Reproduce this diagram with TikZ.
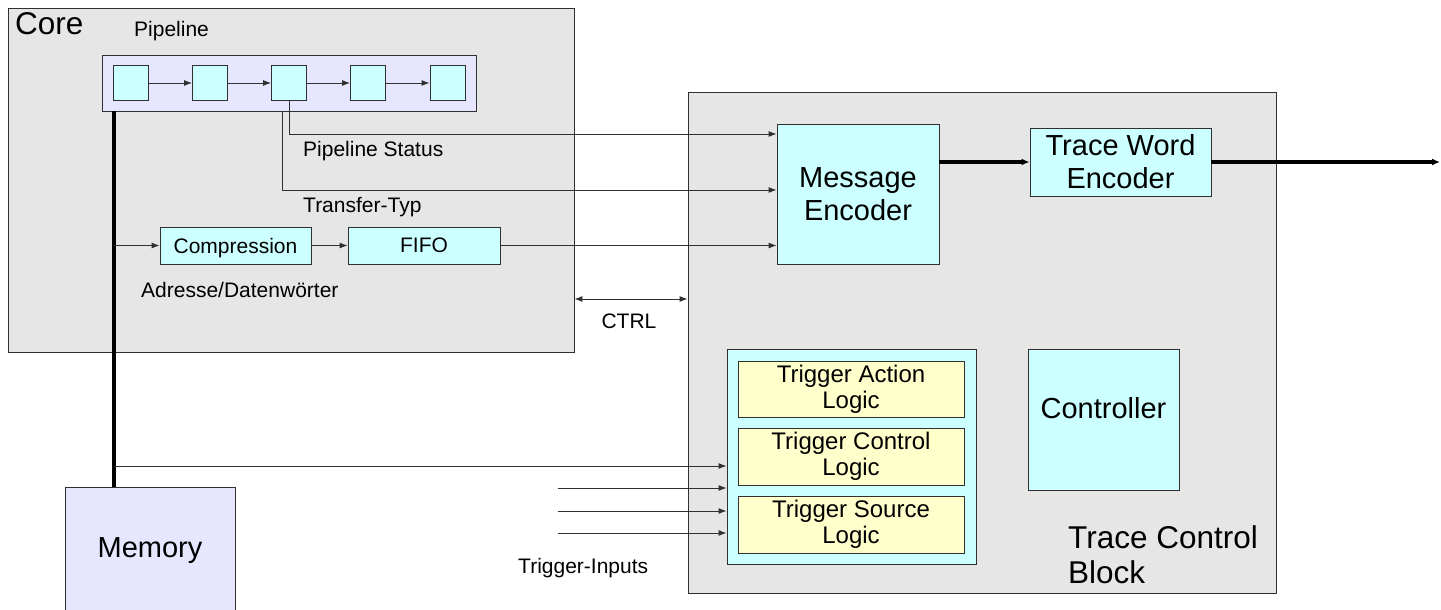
\documentclass[tikz,border=0pt]{standalone}
\usepackage{fontspec}
\setmainfont{Liberation Sans}
\usetikzlibrary{arrows.meta}
\definecolor{coregray}{HTML}{E6E6E6}
\definecolor{lavender}{HTML}{E6E6FF}
\definecolor{palecyan}{HTML}{CCFFFF}
\definecolor{paleyellow}{HTML}{FFFFCC}
\definecolor{edge}{HTML}{303030}

\tikzset{
  box/.style={draw=edge, line width=0.9pt, inner sep=0pt, align=center},
  graybox/.style={box, fill=coregray},
  lavbox/.style={box, fill=lavender},
  cyanbox/.style={box, fill=palecyan},
  yelbox/.style={box, fill=paleyellow},
  small/.style={font=\fontsize{21}{24}\selectfont},
  mid/.style={font=\fontsize{24}{26}\selectfont},
  big/.style={font=\fontsize{29}{33}\selectfont},
  huge/.style={font=\fontsize{31.5}{35}\selectfont},
  label/.style={small, inner sep=0pt},
  wire/.style={draw=edge, line width=0.9pt},
  arr/.style={wire, -{Latex[length=8pt,width=6pt]}},
  biarr/.style={wire, {Latex[length=8pt,width=6pt]}-{Latex[length=8pt,width=6pt]}},
  bus/.style={draw=black, line width=3.5pt},
  busarr/.style={draw=black, line width=3.5pt, -{Latex[length=8pt,width=7pt]}},
}

\begin{document}
\begin{tikzpicture}[x=1pt,y=-1pt]
\useasboundingbox (0,0) rectangle (1441,610);

% ---- outer blocks
\node[graybox, minimum width=566pt, minimum height=344pt] (core) at (291,180) {};
\node[graybox, minimum width=588pt, minimum height=501pt] (tcb) at (982,342.5) {};
\node[huge, inner sep=0pt, anchor=base west] (corelbl) at (15,35) {Core};

% ---- pipeline
\node[label, anchor=base west] (pipelbl) at (134,37) {Pipeline};
\node[lavbox, minimum width=374pt, minimum height=56pt] (pipe) at (289,83) {};
\foreach \i/\x in {1/130.5, 2/210, 3/289, 4/368, 5/447.5}
  \node[cyanbox, minimum width=35pt, minimum height=35pt] (s\i) at (\x,83) {};
\foreach \a/\b in {1/2, 2/3, 3/4, 4/5}
  \draw[arr] (s\a) -- (s\b);

% ---- compression path
\node[cyanbox, small, text depth=0pt, minimum width=151pt, minimum height=37pt] (comp) at (235.5,245.5) {Compression};
\node[cyanbox, small, minimum width=152pt, minimum height=37pt] (fifo) at (424,245.5) {FIFO};
\node[label, anchor=base west] (addrlbl) at (141,297) {Adresse/Datenwörter};

% ---- trace control block contents
\node[cyanbox, big, minimum width=162pt, minimum height=140pt] (me) at (858,194) {Message\\Encoder};
\node[cyanbox, big, minimum width=181pt, minimum height=68pt] (twe) at (1120.5,162) {Trace Word\\Encoder};
\node[cyanbox, minimum width=249pt, minimum height=215pt] (trig) at (851.5,456.5) {};
\node[yelbox, mid, minimum width=226pt, minimum height=56pt] (ta) at (851,389) {Trigger Action\\Logic};
\node[yelbox, mid, minimum width=226pt, minimum height=57pt] (tc) at (851,456.5) {Trigger Control\\Logic};
\node[yelbox, mid, minimum width=226pt, minimum height=57pt] (ts) at (851,524.5) {Trigger Source\\Logic};
\node[cyanbox, big, minimum width=151pt, minimum height=141pt] (ctl) at (1103.5,419.5)
  {\raisebox{11pt}[\height][\depth]{Controller}};
\node[huge, inner sep=0pt, anchor=base west] (tcblbl1) at (1068,548) {Trace Control};
\node[huge, inner sep=0pt, anchor=base west] (tcblbl2) at (1068,583) {Block};

% ---- memory
\node[lavbox, big, minimum width=170pt, minimum height=128pt] (mem) at (150,551) {Memory};

% ---- helper coordinates
\coordinate (busx) at (114,0);
\coordinate (stat) at (0,134);
\coordinate (ttyp) at (282,0);
\coordinate (xfer) at (0,190);
\coordinate (ctrly) at (0,299);
\coordinate (memy) at (0,466);
\coordinate (out) at (1440,162);
\coordinate (ti1) at (558,488);
\coordinate (ti2) at (558,511);
\coordinate (ti3) at (558,533);

% ---- connectors
\draw[bus] (pipe.south -| busx) -- (mem.north -| busx);
\draw[arr] (comp.west -| busx) -- (comp.west);
\draw[arr] (comp) -- (fifo);
\draw[arr] (fifo.east) -- (fifo.east -| me.west);
\draw[arr] (s3.south) |- (me.west |- stat);
\draw[arr] (pipe.south -| ttyp) |- (me.west |- xfer);
\draw[biarr] (core.east |- ctrly) -- (tcb.west |- ctrly);
\draw[busarr] (me.east |- twe.west) -- (twe.west);
\draw[busarr] (twe.east) -- (out);
\draw[arr] (busx |- memy) -- (trig.west |- memy);
\foreach \t in {ti1, ti2, ti3}
  \draw[arr] (\t) -- (trig.west |- \t);

% ---- connector labels
\node[label, anchor=base west] (statlbl) at (303,156) {Pipeline Status};
\node[label, anchor=base west] (xferlbl) at (303,212) {Transfer-Typ};
\node[label, anchor=base] (ctrllbl) at (629,328) {CTRL};
\node[label, anchor=base west] (tilbl) at (518,573) {Trigger-Inputs};
\end{tikzpicture}
\end{document}
